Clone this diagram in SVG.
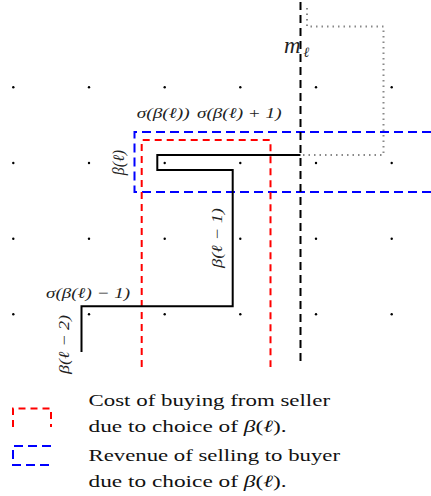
<svg xmlns="http://www.w3.org/2000/svg" width="431" height="496" viewBox="0 0 431 496">
<style>
.dot{fill:#000}
.math{font-family:"Liberation Serif","DejaVu Serif",serif;font-style:italic;font-size:15px;fill:#222}
.txt{font-family:"Liberation Serif","DejaVu Serif",serif;font-size:17px;fill:#111}
.red{fill:none;stroke:#ff0000;stroke-width:2;stroke-dasharray:7 5}
.blue{fill:none;stroke:#0000ff;stroke-width:2;stroke-dasharray:9 5}
.blk{fill:none;stroke:#000;stroke-width:2;stroke-dasharray:8 5}
.gray{fill:none;stroke:#888;stroke-width:2;stroke-dasharray:1.5 4}
.path{fill:none;stroke:#000;stroke-width:2}
</style>
<rect width="431" height="496" fill="#fff"/>
<g id="grid">
<circle class="dot" cx="13.3" cy="87.3" r="1.2"/><circle class="dot" cx="89" cy="87.3" r="1.2"/><circle class="dot" cx="164.7" cy="87.3" r="1.2"/><circle class="dot" cx="240.3" cy="87.3" r="1.2"/><circle class="dot" cx="316" cy="87.3" r="1.2"/><circle class="dot" cx="391.7" cy="87.3" r="1.2"/>
<circle class="dot" cx="13.3" cy="163" r="1.2"/><circle class="dot" cx="89" cy="163" r="1.2"/><circle class="dot" cx="164.7" cy="163" r="1.2"/><circle class="dot" cx="240.3" cy="163" r="1.2"/><circle class="dot" cx="316" cy="163" r="1.2"/><circle class="dot" cx="391.7" cy="163" r="1.2"/>
<circle class="dot" cx="13.3" cy="238.7" r="1.2"/><circle class="dot" cx="89" cy="238.7" r="1.2"/><circle class="dot" cx="164.7" cy="238.7" r="1.2"/><circle class="dot" cx="240.3" cy="238.7" r="1.2"/><circle class="dot" cx="316" cy="238.7" r="1.2"/><circle class="dot" cx="391.7" cy="238.7" r="1.2"/>
<circle class="dot" cx="13.3" cy="314.3" r="1.2"/><circle class="dot" cx="89" cy="314.3" r="1.2"/><circle class="dot" cx="164.7" cy="314.3" r="1.2"/><circle class="dot" cx="240.3" cy="314.3" r="1.2"/><circle class="dot" cx="316" cy="314.3" r="1.2"/><circle class="dot" cx="391.7" cy="314.3" r="1.2"/>
</g>
<g id="connectors">
<path id="gray-dotted" class="gray" d="M307,8 V26.5 H383.5 V155 H303"/>
<path id="blue-region" class="blue" d="M431,132 H134.5 V192 H431"/>
<path id="red-region" class="red" d="M141.7,367 V140 H270.5 V367"/>
<path id="m-line" class="blk" d="M300.5,2 V363"/>
<path id="staircase" class="path" d="M300.5,155 H157.3 V170 H232.7 V306.3 H81.5 V352"/>
</g>
<g id="labels">
<text class="math" x="284" y="53" style="font-size:23px">m</text>
<text class="math" x="303.5" y="57" style="font-size:14px">ℓ</text>
<text class="math" x="136.7" y="118" textLength="53" lengthAdjust="spacingAndGlyphs">σ(β(ℓ))</text>
<text class="math" x="197" y="118" textLength="84.5" lengthAdjust="spacingAndGlyphs">σ(β(ℓ) + 1)</text>
<text class="math" x="46" y="298" textLength="84" lengthAdjust="spacingAndGlyphs">σ(β(ℓ) − 1)</text>
<text class="math" transform="translate(123.5,162.5) rotate(-90)" text-anchor="middle" style="font-size:16px">β(ℓ)</text>
<text class="math" transform="translate(221.5,238) rotate(-90)" text-anchor="middle" textLength="60" lengthAdjust="spacingAndGlyphs">β(ℓ − 1)</text>
<text class="math" transform="translate(68.5,344.5) rotate(-90)" text-anchor="middle" textLength="59" lengthAdjust="spacingAndGlyphs">β(ℓ − 2)</text>
</g>
<g id="legend-red">
<path class="red" d="M13,427 V408.5 H51 V427"/>
<text class="txt" x="88.5" y="406" textLength="241.5" lengthAdjust="spacingAndGlyphs">Cost of buying from seller</text>
<text class="txt" x="88.5" y="432" textLength="198" lengthAdjust="spacingAndGlyphs">due to choice of <tspan font-style="italic">β</tspan>(<tspan font-style="italic">ℓ</tspan>).</text>
</g>
<g id="legend-blue">
<path class="blue" d="M51,446 H13 V465 H51"/>
<text class="txt" x="88.5" y="461" textLength="251.5" lengthAdjust="spacingAndGlyphs">Revenue of selling to buyer</text>
<text class="txt" x="88.5" y="487" textLength="198" lengthAdjust="spacingAndGlyphs">due to choice of <tspan font-style="italic">β</tspan>(<tspan font-style="italic">ℓ</tspan>).</text>
</g>
</svg>
